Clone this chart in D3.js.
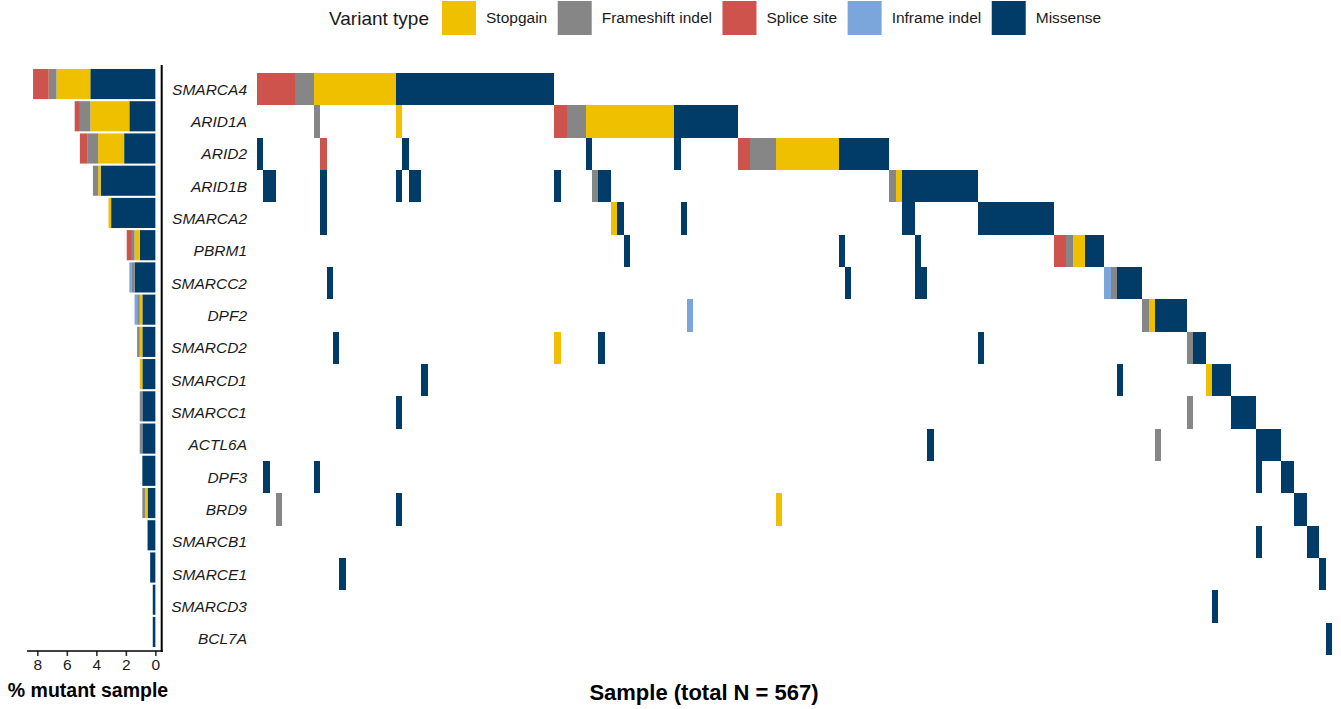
<!DOCTYPE html>
<html>
<head>
<meta charset="utf-8">
<script src="https://cdn.jsdelivr.net/npm/d3@7"></script>
<style>
  html, body { margin: 0; padding: 0; background: #fff; }
  svg { display: block; font-family: "Liberation Sans", Arial, Helvetica, sans-serif; }
</style>
</head>
<body>
<svg id="chart" width="1341" height="709"></svg>
<script>
const genes = ["SMARCA4", "ARID1A", "ARID2", "ARID1B", "SMARCA2", "PBRM1", "SMARCC2", "DPF2", "SMARCD2",
  "SMARCD1", "SMARCC1", "ACTL6A", "DPF3", "BRD9", "SMARCB1", "SMARCE1", "SMARCD3", "BCL7A"];

// stacking order (left -> right in the matrix)
const variantTypes = ["Splice site", "Inframe indel", "Frameshift indel", "Stopgain", "Missense"];
const legendOrder = ["Stopgain", "Frameshift indel", "Splice site", "Inframe indel", "Missense"];
const variantColors = ["#CD534C", "#7AA6DC", "#868686", "#EFC000", "#003C67"];

const totalSamples = 567;
const shownSamples = 170;
const pctTicks = [8, 6, 4, 2, 0];

const SP = "Splice site", IF = "Inframe indel", FS = "Frameshift indel", SG = "Stopgain", MS = "Missense";

// [gene, first sample, number of samples, variant type]
const mutationRuns = [
  ["SMARCA4", 0, 6, SP], ["SMARCA4", 6, 3, FS], ["SMARCA4", 9, 13, SG], ["SMARCA4", 22, 25, MS],
  ["ARID1A", 9, 1, FS], ["ARID1A", 22, 1, SG], ["ARID1A", 47, 2, SP], ["ARID1A", 49, 3, FS],
  ["ARID1A", 52, 14, SG], ["ARID1A", 66, 10, MS],
  ["ARID2", 0, 1, MS], ["ARID2", 10, 1, SP], ["ARID2", 23, 1, MS], ["ARID2", 52, 1, MS], ["ARID2", 66, 1, MS],
  ["ARID2", 76, 2, SP], ["ARID2", 78, 4, FS], ["ARID2", 82, 10, SG], ["ARID2", 92, 8, MS],
  ["ARID1B", 1, 2, MS], ["ARID1B", 10, 1, MS], ["ARID1B", 22, 1, MS], ["ARID1B", 24, 2, MS], ["ARID1B", 47, 1, MS],
  ["ARID1B", 53, 1, FS], ["ARID1B", 54, 2, MS], ["ARID1B", 100, 1, FS], ["ARID1B", 101, 1, SG], ["ARID1B", 102, 12, MS],
  ["SMARCA2", 10, 1, MS], ["SMARCA2", 56, 1, SG], ["SMARCA2", 57, 1, MS], ["SMARCA2", 67, 1, MS],
  ["SMARCA2", 102, 2, MS], ["SMARCA2", 114, 12, MS],
  ["PBRM1", 58, 1, MS], ["PBRM1", 92, 1, MS], ["PBRM1", 104, 1, MS], ["PBRM1", 126, 2, SP],
  ["PBRM1", 128, 1, FS], ["PBRM1", 129, 2, SG], ["PBRM1", 131, 3, MS],
  ["SMARCC2", 11, 1, MS], ["SMARCC2", 93, 1, MS], ["SMARCC2", 104, 2, MS], ["SMARCC2", 134, 1, IF],
  ["SMARCC2", 135, 1, FS], ["SMARCC2", 136, 4, MS],
  ["DPF2", 68, 1, IF], ["DPF2", 140, 1, FS], ["DPF2", 141, 1, SG], ["DPF2", 142, 5, MS],
  ["SMARCD2", 12, 1, MS], ["SMARCD2", 47, 1, SG], ["SMARCD2", 54, 1, MS], ["SMARCD2", 114, 1, MS],
  ["SMARCD2", 147, 1, FS], ["SMARCD2", 148, 2, MS],
  ["SMARCD1", 26, 1, MS], ["SMARCD1", 136, 1, MS], ["SMARCD1", 150, 1, SG], ["SMARCD1", 151, 3, MS],
  ["SMARCC1", 22, 1, MS], ["SMARCC1", 147, 1, FS], ["SMARCC1", 154, 4, MS],
  ["ACTL6A", 106, 1, MS], ["ACTL6A", 142, 1, FS], ["ACTL6A", 158, 4, MS],
  ["DPF3", 1, 1, MS], ["DPF3", 9, 1, MS], ["DPF3", 158, 1, MS], ["DPF3", 162, 2, MS],
  ["BRD9", 3, 1, FS], ["BRD9", 22, 1, MS], ["BRD9", 82, 1, SG], ["BRD9", 164, 2, MS],
  ["SMARCB1", 158, 1, MS], ["SMARCB1", 166, 2, MS],
  ["SMARCE1", 13, 1, MS], ["SMARCE1", 168, 1, MS],
  ["SMARCD3", 151, 1, MS],
  ["BCL7A", 169, 1, MS]
];

const svg = d3.select("#chart");
const color = d3.scaleOrdinal().domain(variantTypes).range(variantColors);

// ---- main matrix ----
const x = d3.scaleBand().domain(d3.range(shownSamples)).range([257, 1332]).padding(0);
const y = d3.scaleBand().domain(genes).range([73, 655]).padding(0);

svg.append("g")
  .attr("shape-rendering", "crispEdges")
  .selectAll("rect")
  .data(mutationRuns)
  .join("rect")
  .attr("x", d => x(d[1]))
  .attr("y", d => y(d[0]))
  .attr("width", d => x.step() * d[2])
  .attr("height", y.bandwidth())
  .attr("fill", d => color(d[3]));

svg.append("g")
  .selectAll("text")
  .data(genes)
  .join("text")
  .attr("x", 247)
  .attr("y", d => y(d) + y.bandwidth() / 2)
  .attr("dy", "0.35em")
  .attr("text-anchor", "end")
  .attr("font-style", "italic")
  .attr("font-size", 15.5)
  .attr("fill", "#1a1a1a")
  .text(d => d);

svg.append("text")
  .attr("x", 704)
  .attr("y", 692)
  .attr("dy", "0.35em")
  .attr("text-anchor", "middle")
  .attr("font-weight", "bold")
  .attr("font-size", 22)
  .text(`Sample (total N = ${totalSamples})`);

// ---- left bar: % mutant samples ----
const counts = genes.map(g => {
  const row = { gene: g };
  variantTypes.forEach(t => row[t] = 0);
  mutationRuns.filter(r => r[0] === g).forEach(r => row[r[3]] += r[2]);
  variantTypes.forEach(t => row[t] = row[t] / totalSamples * 100);
  return row;
});

const stackKeys = variantTypes.slice().reverse(); // Missense nearest zero
const series = d3.stack().keys(stackKeys)(counts);

const xp = d3.scaleLinear().domain([-0.45, 8.7]).range([162, 27]);
const yp = d3.scaleBand().domain(genes).range([68, 648]).paddingInner(0.065).paddingOuter(0.03);

svg.append("g")
  .selectAll("g")
  .data(series)
  .join("g")
  .attr("fill", s => color(s.key))
  .selectAll("rect")
  .data(s => s)
  .join("rect")
  .attr("x", d => xp(d[1]))
  .attr("y", d => yp(d.data.gene))
  .attr("width", d => Math.max(0, xp(d[0]) - xp(d[1])))
  .attr("height", yp.bandwidth());

// axis lines
svg.append("line")
  .attr("x1", 161.7).attr("x2", 161.7)
  .attr("y1", 65).attr("y2", 652)
  .attr("stroke", "#000").attr("stroke-width", 2);

const xAxis = svg.append("g")
  .attr("transform", "translate(0,651)")
  .call(d3.axisBottom(xp).tickValues(pctTicks).tickSize(5).tickPadding(3).tickFormat(d3.format("d")));
xAxis.select(".domain").remove();
xAxis.append("line")
  .attr("x1", 27).attr("x2", 162.7)
  .attr("stroke", "#000").attr("stroke-width", 1.6);
xAxis.selectAll(".tick line").attr("stroke", "#333").attr("stroke-width", 1.6);
xAxis.selectAll(".tick text")
  .attr("font-size", 15.5)
  .attr("fill", "#1a1a1a")
  .attr("font-family", "'Liberation Sans', Arial, Helvetica, sans-serif");

svg.append("text")
  .attr("x", 88)
  .attr("y", 690)
  .attr("dy", "0.35em")
  .attr("text-anchor", "middle")
  .attr("font-weight", "bold")
  .attr("font-size", 19.5)
  .text("% mutant sample");

// ---- legend ----
const legend = svg.append("g");
legend.append("text")
  .attr("x", 329)
  .attr("y", 18)
  .attr("dy", "0.35em")
  .attr("font-size", 19)
  .attr("fill", "#1a1a1a")
  .text("Variant type");

let lx = 442;
legendOrder.forEach(t => {
  legend.append("rect")
    .attr("x", lx).attr("y", 1)
    .attr("width", 34).attr("height", 34)
    .attr("fill", color(t));
  const label = legend.append("text")
    .attr("x", lx + 44)
    .attr("y", 18)
    .attr("dy", "0.35em")
    .attr("font-size", 15.5)
    .attr("fill", "#1a1a1a")
    .text(t);
  lx = lx + 44 + label.node().getComputedTextLength() + 10.5;
});
</script>
</body>
</html>
